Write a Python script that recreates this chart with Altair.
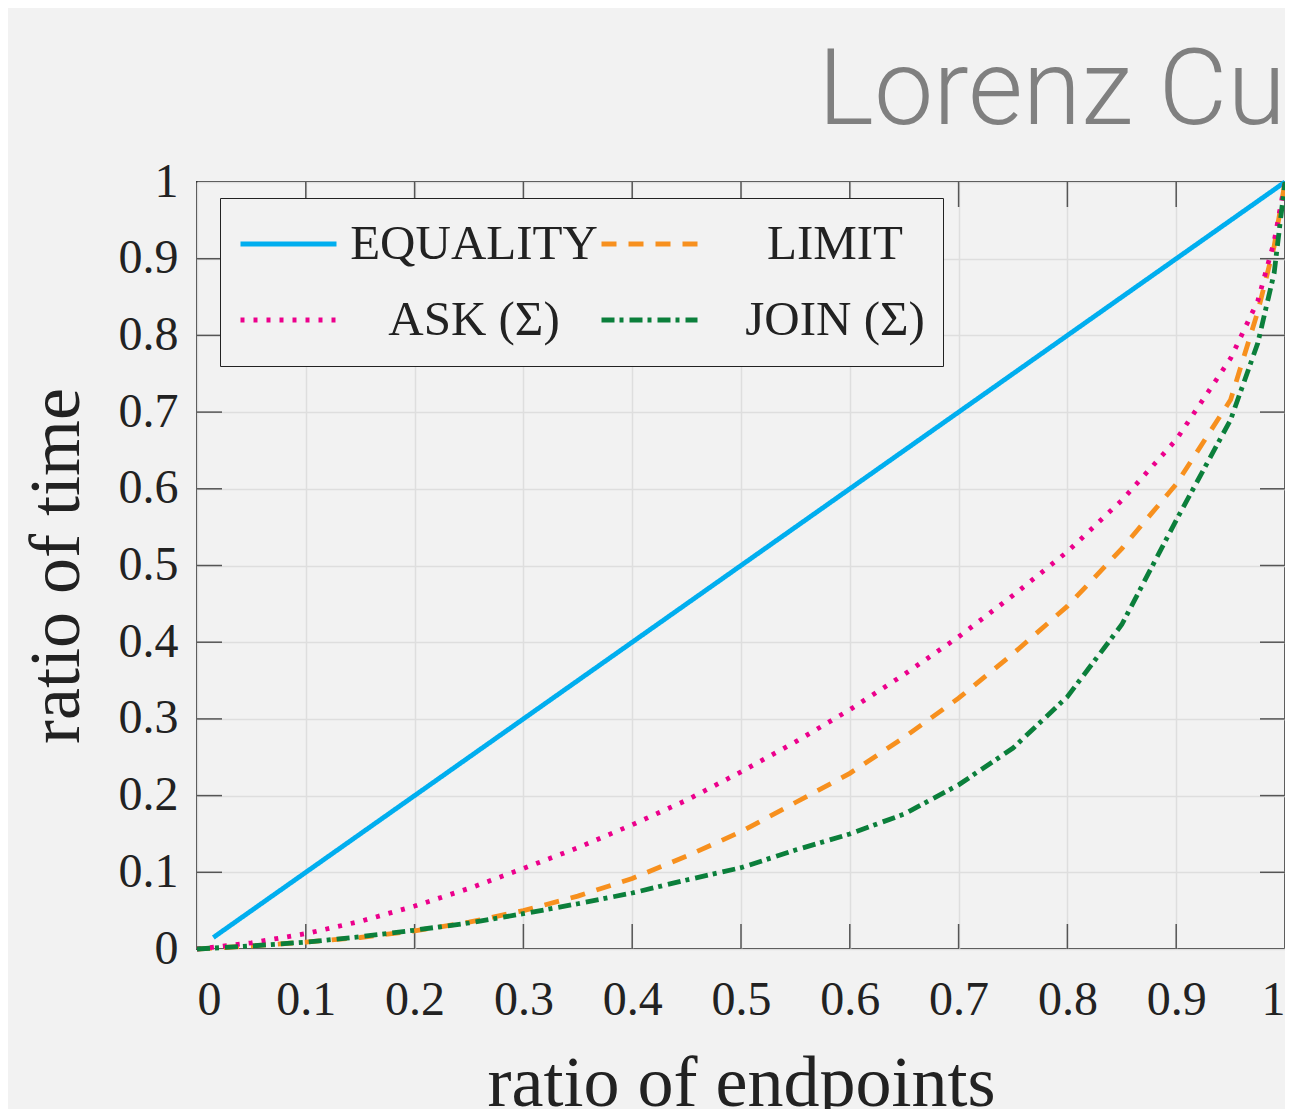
import altair as alt
import pandas as pd

# ---- data ----
# legend order (filled column by column): EQUALITY, ASK / LIMIT, JOIN rows
series_names = ["EQUALITY", "ASK (Σ)", "LIMIT", "JOIN (Σ)"]
series_colors = ["#00AEEF", "#EC008C", "#F7901E", "#0B7F3B"]
series_dashes = [[1, 0], [4, 9], [15, 12], [13, 5, 4, 6]]

equality_x = [0.015, 1.0]
equality_y = [0.015, 1.0]

curve_x = [0, 0.05, 0.1, 0.15, 0.2, 0.25, 0.3, 0.35, 0.4, 0.45, 0.5, 0.55,
           0.6, 0.65, 0.7, 0.75, 0.8, 0.85, 0.9, 0.95, 0.975, 0.99, 1.0]
limit_y = [0, 0.004, 0.009, 0.015, 0.0235, 0.035, 0.05, 0.069, 0.092, 0.121,
           0.153, 0.191, 0.229, 0.276, 0.327, 0.385, 0.447, 0.522, 0.606,
           0.716, 0.831, 0.916, 1.0]
ask_y = [0, 0.008, 0.02, 0.036, 0.056, 0.079, 0.105, 0.132, 0.162, 0.194,
         0.231, 0.270, 0.312, 0.358, 0.407, 0.461, 0.518, 0.585, 0.664,
         0.770, 0.845, 0.922, 1.0]
join_y = [0, 0.004, 0.009, 0.016, 0.0245, 0.034, 0.046, 0.059, 0.073, 0.090,
          0.106, 0.129, 0.150, 0.176, 0.214, 0.262, 0.329, 0.423, 0.559,
          0.690, 0.790, 0.881, 1.0]

tick_values = [0, 0.1, 0.2, 0.3, 0.4, 0.5, 0.6, 0.7, 0.8, 0.9, 1]
inner_ticks = [0.1, 0.2, 0.3, 0.4, 0.5, 0.6, 0.7, 0.8, 0.9]

title_text = "Lorenz Curves"
x_title = "ratio of endpoints"
y_title = "ratio of time"

# ---- build tables ----
rows = []
for x, y in zip(equality_x, equality_y):
    rows.append({"series": "EQUALITY", "x": x, "y": y, "o": len(rows)})
for name, ys in [("LIMIT", limit_y), ("ASK (Σ)", ask_y), ("JOIN (Σ)", join_y)]:
    for x, y in zip(curve_x, ys):
        rows.append({"series": name, "x": x, "y": y, "o": len(rows)})
df = pd.DataFrame(rows)
ticks_df = pd.DataFrame({"t": inner_ticks})
title_df = pd.DataFrame({"label": [title_text]})

W, H = 1088, 767
TL = 25  # inward tick length
SERIF = "Liberation Serif"
INK = "#222222"

xscale = alt.Scale(domain=[0, 1], nice=False)
yscale = alt.Scale(domain=[0, 1], nice=False)

x_enc = alt.X("x:Q", scale=xscale, title=x_title,
              axis=alt.Axis(values=tick_values, format="~g", grid=True,
                            ticks=False, domain=False, labelPadding=27,
                            titlePadding=24))
y_enc = alt.Y("y:Q", scale=yscale, title=y_title,
              axis=alt.Axis(values=tick_values, format="~g", grid=True,
                            ticks=False, domain=False, labelPadding=19,
                            titlePadding=25))

leg = alt.Legend(title=None, orient="none", legendX=23, legendY=16, columns=2)

lines = alt.Chart(df).mark_line(strokeWidth=4.8, clip=False).encode(
    x=x_enc,
    y=y_enc,
    order=alt.Order("o:Q"),
    color=alt.Color("series:N",
                    scale=alt.Scale(domain=series_names, range=series_colors),
                    legend=leg),
    strokeDash=alt.StrokeDash("series:N",
                              scale=alt.Scale(domain=series_names,
                                              range=series_dashes),
                              legend=leg),
)

tick_style = dict(color="#555555", strokeWidth=1.5)
bottom_ticks = alt.Chart(ticks_df).mark_rule(**tick_style).encode(
    x=alt.X("t:Q", scale=xscale), y=alt.value(H), y2=alt.value(H - TL))
top_ticks = alt.Chart(ticks_df).mark_rule(**tick_style).encode(
    x=alt.X("t:Q", scale=xscale), y=alt.value(0), y2=alt.value(TL))
left_ticks = alt.Chart(ticks_df).mark_rule(**tick_style).encode(
    y=alt.Y("t:Q", scale=yscale), x=alt.value(0), x2=alt.value(TL))
right_ticks = alt.Chart(ticks_df).mark_rule(**tick_style).encode(
    y=alt.Y("t:Q", scale=yscale), x=alt.value(W), x2=alt.value(W - TL))

title_mark = alt.Chart(title_df).mark_text(
    align="left", baseline="alphabetic", font="Roboto", fontWeight=300,
    fontSize=106, color="#808080",
).encode(text="label:N", x=alt.value(621), y=alt.value(-58))

chart = alt.layer(bottom_ticks, top_ticks, left_ticks, right_ticks, lines,
                  title_mark).properties(
    width=W,
    height=H,
    autosize=alt.AutoSizeParams(type="none"),
    padding={"left": 189, "top": 174, "right": 0, "bottom": 160},
    background="#F2F2F2",
).configure_view(
    stroke="#333333", strokeWidth=2, fill=None
).configure_axis(
    labelFont=SERIF, labelFontSize=48, labelColor=INK,
    titleFont=SERIF, titleFontSize=72, titleFontWeight="normal",
    titleColor=INK, gridColor="#DEDEDE", gridWidth=1.5,
).configure_legend(
    symbolType="stroke", symbolSize=9216, symbolStrokeWidth=5,
    labelFont=SERIF, labelFontSize=49, labelColor=INK, labelLimit=500,
    labelAlign="center", labelOffset=135, columnPadding=1,
    rowPadding=20, padding=18, clipHeight=56,
    fillColor="#F2F2F2", strokeColor="#222222",
)

chart.save("out.html", embed_options={"renderer": "svg", "actions": False})
